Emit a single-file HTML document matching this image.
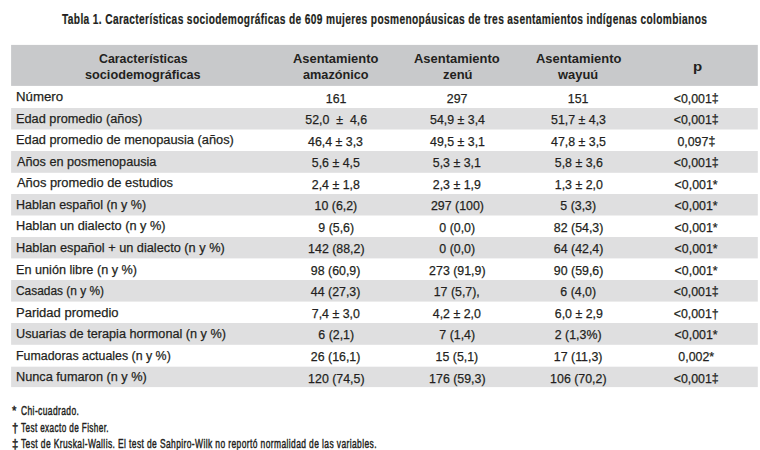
<!DOCTYPE html>
<html><head><meta charset="utf-8"><style>
html,body{margin:0;padding:0;background:#fff;width:760px;height:450px;overflow:hidden;}
body{position:relative;font-family:"Liberation Sans",sans-serif;color:#231f20;}
.bg{position:absolute;}
.t{position:absolute;white-space:nowrap;transform-origin:0 0;}
.c{position:absolute;white-space:nowrap;text-align:center;}
.c span{display:inline-block;transform-origin:50% 50%;}
.r{-webkit-text-stroke:0.25px #231f20;}
.f{-webkit-text-stroke:0.45px #231f20;letter-spacing:0.6px;}
.tb{font-weight:bold;letter-spacing:0.5px;-webkit-text-stroke:0.2px #231f20;}
i.dd{font-style:normal;position:relative;top:-1px;}
.b{font-weight:bold;color:#231f20;}
</style></head><body>
<svg class="bg" style="left:0;top:0" width="760" height="450" viewBox="0 0 760 450"><rect x="11.1" y="44.9" width="746.7" height="41.00" fill="#c8c9cb"/><rect x="11.1" y="108" width="746.7" height="21.50" fill="#dfdfe0"/><rect x="11.1" y="151" width="746.7" height="21.80" fill="#dfdfe0"/><rect x="11.1" y="194" width="746.7" height="21.50" fill="#dfdfe0"/><rect x="11.1" y="237" width="746.7" height="21.40" fill="#dfdfe0"/><rect x="11.1" y="280" width="746.7" height="21.60" fill="#dfdfe0"/><rect x="11.1" y="323" width="746.7" height="21.80" fill="#dfdfe0"/><rect x="11.1" y="366.7" width="746.7" height="20.40" fill="#dfdfe0"/></svg>
<div class="t tb" style="left:62.00px;top:12.05px;font-size:14.0px;line-height:14.0px;transform:scaleX(0.7269)">Tabla 1. Características sociodemográficas de 609 mujeres posmenopáusicas de tres asentamientos indígenas colombianos</div>
<div class="t b" style="left:99.30px;top:51.99px;font-size:13px;line-height:13px;transform:scaleX(0.9505)">Características</div>
<div class="t b" style="left:85.42px;top:68.39px;font-size:13px;line-height:13px;transform:scaleX(0.9761)">sociodemográficas</div>
<div class="t b" style="left:293.00px;top:51.69px;font-size:13px;line-height:13px;transform:scaleX(0.9930)">Asentamiento</div>
<div class="t b" style="left:303.20px;top:67.89px;font-size:13px;line-height:13px;transform:scaleX(0.9761)">amazónico</div>
<div class="t b" style="left:414.20px;top:51.69px;font-size:13px;line-height:13px;transform:scaleX(0.9965)">Asentamiento</div>
<div class="t b" style="left:442.70px;top:67.89px;font-size:13px;line-height:13px;transform:scaleX(0.9966)">zenú</div>
<div class="t b" style="left:535.60px;top:51.69px;font-size:13px;line-height:13px;transform:scaleX(0.9930)">Asentamiento</div>
<div class="t b" style="left:558.40px;top:67.89px;font-size:13px;line-height:13px;transform:scaleX(0.9925)">wayuú</div>
<div class="t b" style="left:693.04px;top:59.79px;font-size:13px;line-height:13px;transform:scaleX(1.1571)">p</div>
<div class="t r" style="left:15.73px;top:89.90px;font-size:13.7px;line-height:13.7px;transform:scaleX(0.9681)">Número</div>
<div class="t r" style="left:15.77px;top:111.70px;font-size:13.7px;line-height:13.7px;transform:scaleX(0.9313)">Edad promedio (años)</div>
<div class="t r" style="left:15.76px;top:132.60px;font-size:13.7px;line-height:13.7px;transform:scaleX(0.9355)">Edad promedio de menopausia (años)</div>
<div class="t r" style="left:16.70px;top:154.60px;font-size:13.7px;line-height:13.7px;transform:scaleX(0.9252)">Años en posmenopausia</div>
<div class="t r" style="left:16.70px;top:175.60px;font-size:13.7px;line-height:13.7px;transform:scaleX(0.9404)">Años promedio de estudios</div>
<div class="t r" style="left:15.79px;top:197.60px;font-size:13.7px;line-height:13.7px;transform:scaleX(0.9142)">Hablan español (n y %)</div>
<div class="t r" style="left:15.77px;top:218.60px;font-size:13.7px;line-height:13.7px;transform:scaleX(0.9314)">Hablan un dialecto (n y %)</div>
<div class="t r" style="left:15.77px;top:240.60px;font-size:13.7px;line-height:13.7px;transform:scaleX(0.9314)">Hablan español + un dialecto (n y %)</div>
<div class="t r" style="left:15.78px;top:262.60px;font-size:13.7px;line-height:13.7px;transform:scaleX(0.9248)">En unión libre (n y %)</div>
<div class="t r" style="left:15.83px;top:283.60px;font-size:13.7px;line-height:13.7px;transform:scaleX(0.8700)">Casadas (n y %)</div>
<div class="t r" style="left:15.75px;top:305.60px;font-size:13.7px;line-height:13.7px;transform:scaleX(0.9495)">Paridad promedio</div>
<div class="t r" style="left:15.77px;top:326.60px;font-size:13.7px;line-height:13.7px;transform:scaleX(0.9262)">Usuarias de terapia hormonal (n y %)</div>
<div class="t r" style="left:15.80px;top:348.60px;font-size:13.7px;line-height:13.7px;transform:scaleX(0.9041)">Fumadoras actuales (n y %)</div>
<div class="t r" style="left:15.77px;top:369.60px;font-size:13.7px;line-height:13.7px;transform:scaleX(0.9295)">Nunca fumaron (n y %)</div>
<div class="t f" style="left:21.30px;top:404.93px;font-size:12.6px;line-height:12.6px;transform:scaleX(0.6709)">Chi-cuadrado.</div>
<div class="t f" style="left:21.30px;top:421.73px;font-size:12.6px;line-height:12.6px;transform:scaleX(0.6485)">Test exacto de Fisher.</div>
<div class="t f" style="left:21.30px;top:437.53px;font-size:12.6px;line-height:12.6px;transform:scaleX(0.6700)">Test de Kruskal-Wallis. El test de Sahpiro-Wilk no reportó normalidad de las variables.</div>
<div class="c r" style="left:236.00px;width:200px;top:92.14px;font-size:13.3px;line-height:13.3px"><span style="transform:scaleX(0.93)">161</span></div>
<div class="c r" style="left:357.20px;width:200px;top:92.14px;font-size:13.3px;line-height:13.3px"><span style="transform:scaleX(0.93)">297</span></div>
<div class="c r" style="left:478.40px;width:200px;top:92.14px;font-size:13.3px;line-height:13.3px"><span style="transform:scaleX(0.93)">151</span></div>
<div class="c r" style="left:596.40px;width:200px;top:92.14px;font-size:13.3px;line-height:13.3px"><span style="transform:scaleX(0.93)">&lt;0,001<i class="dd">‡</i></span></div>
<div class="c r" style="left:236.00px;width:200px;top:112.94px;font-size:13.3px;line-height:13.3px"><span style="transform:scaleX(0.93)">52,0 &nbsp;±&nbsp; 4,6</span></div>
<div class="c r" style="left:357.20px;width:200px;top:112.94px;font-size:13.3px;line-height:13.3px"><span style="transform:scaleX(0.93)">54,9 ± 3,4</span></div>
<div class="c r" style="left:478.40px;width:200px;top:112.94px;font-size:13.3px;line-height:13.3px"><span style="transform:scaleX(0.93)">51,7 ± 4,3</span></div>
<div class="c r" style="left:596.40px;width:200px;top:112.94px;font-size:13.3px;line-height:13.3px"><span style="transform:scaleX(0.93)">&lt;0,001<i class="dd">‡</i></span></div>
<div class="c r" style="left:236.00px;width:200px;top:135.14px;font-size:13.3px;line-height:13.3px"><span style="transform:scaleX(0.93)">46,4 ± 3,3</span></div>
<div class="c r" style="left:357.20px;width:200px;top:135.14px;font-size:13.3px;line-height:13.3px"><span style="transform:scaleX(0.93)">49,5 ± 3,1</span></div>
<div class="c r" style="left:478.40px;width:200px;top:135.14px;font-size:13.3px;line-height:13.3px"><span style="transform:scaleX(0.93)">47,8 ± 3,5</span></div>
<div class="c r" style="left:596.40px;width:200px;top:135.14px;font-size:13.3px;line-height:13.3px"><span style="transform:scaleX(0.93)">0,097<i class="dd">‡</i></span></div>
<div class="c r" style="left:236.00px;width:200px;top:155.94px;font-size:13.3px;line-height:13.3px"><span style="transform:scaleX(0.93)">5,6 ± 4,5</span></div>
<div class="c r" style="left:357.20px;width:200px;top:155.94px;font-size:13.3px;line-height:13.3px"><span style="transform:scaleX(0.93)">5,3 ± 3,1</span></div>
<div class="c r" style="left:478.40px;width:200px;top:155.94px;font-size:13.3px;line-height:13.3px"><span style="transform:scaleX(0.93)">5,8 ± 3,6</span></div>
<div class="c r" style="left:596.40px;width:200px;top:155.94px;font-size:13.3px;line-height:13.3px"><span style="transform:scaleX(0.93)">&lt;0,001<i class="dd">‡</i></span></div>
<div class="c r" style="left:236.00px;width:200px;top:178.14px;font-size:13.3px;line-height:13.3px"><span style="transform:scaleX(0.93)">2,4 ± 1,8</span></div>
<div class="c r" style="left:357.20px;width:200px;top:178.14px;font-size:13.3px;line-height:13.3px"><span style="transform:scaleX(0.93)">2,3 ± 1,9</span></div>
<div class="c r" style="left:478.40px;width:200px;top:178.14px;font-size:13.3px;line-height:13.3px"><span style="transform:scaleX(0.93)">1,3 ± 2,0</span></div>
<div class="c r" style="left:596.40px;width:200px;top:178.14px;font-size:13.3px;line-height:13.3px"><span style="transform:scaleX(0.93)">&lt;0,001*</span></div>
<div class="c r" style="left:236.00px;width:200px;top:198.64px;font-size:13.3px;line-height:13.3px"><span style="transform:scaleX(0.93)">10 (6,2)</span></div>
<div class="c r" style="left:357.20px;width:200px;top:198.64px;font-size:13.3px;line-height:13.3px"><span style="transform:scaleX(0.93)">297 (100)</span></div>
<div class="c r" style="left:478.40px;width:200px;top:198.64px;font-size:13.3px;line-height:13.3px"><span style="transform:scaleX(0.93)">5 (3,3)</span></div>
<div class="c r" style="left:596.40px;width:200px;top:198.64px;font-size:13.3px;line-height:13.3px"><span style="transform:scaleX(0.93)">&lt;0,001*</span></div>
<div class="c r" style="left:236.00px;width:200px;top:220.94px;font-size:13.3px;line-height:13.3px"><span style="transform:scaleX(0.93)">9 (5,6)</span></div>
<div class="c r" style="left:357.20px;width:200px;top:220.94px;font-size:13.3px;line-height:13.3px"><span style="transform:scaleX(0.93)">0 (0,0)</span></div>
<div class="c r" style="left:478.40px;width:200px;top:220.94px;font-size:13.3px;line-height:13.3px"><span style="transform:scaleX(0.93)">82 (54,3)</span></div>
<div class="c r" style="left:596.40px;width:200px;top:220.94px;font-size:13.3px;line-height:13.3px"><span style="transform:scaleX(0.93)">&lt;0,001*</span></div>
<div class="c r" style="left:236.00px;width:200px;top:241.64px;font-size:13.3px;line-height:13.3px"><span style="transform:scaleX(0.93)">142 (88,2)</span></div>
<div class="c r" style="left:357.20px;width:200px;top:241.64px;font-size:13.3px;line-height:13.3px"><span style="transform:scaleX(0.93)">0 (0,0)</span></div>
<div class="c r" style="left:478.40px;width:200px;top:241.64px;font-size:13.3px;line-height:13.3px"><span style="transform:scaleX(0.93)">64 (42,4)</span></div>
<div class="c r" style="left:596.40px;width:200px;top:241.64px;font-size:13.3px;line-height:13.3px"><span style="transform:scaleX(0.93)">&lt;0,001*</span></div>
<div class="c r" style="left:236.00px;width:200px;top:264.14px;font-size:13.3px;line-height:13.3px"><span style="transform:scaleX(0.93)">98 (60,9)</span></div>
<div class="c r" style="left:357.20px;width:200px;top:264.14px;font-size:13.3px;line-height:13.3px"><span style="transform:scaleX(0.93)">273 (91,9)</span></div>
<div class="c r" style="left:478.40px;width:200px;top:264.14px;font-size:13.3px;line-height:13.3px"><span style="transform:scaleX(0.93)">90 (59,6)</span></div>
<div class="c r" style="left:596.40px;width:200px;top:264.14px;font-size:13.3px;line-height:13.3px"><span style="transform:scaleX(0.93)">&lt;0,001*</span></div>
<div class="c r" style="left:236.00px;width:200px;top:284.64px;font-size:13.3px;line-height:13.3px"><span style="transform:scaleX(0.93)">44 (27,3)</span></div>
<div class="c r" style="left:357.20px;width:200px;top:284.64px;font-size:13.3px;line-height:13.3px"><span style="transform:scaleX(0.93)">17 (5,7),</span></div>
<div class="c r" style="left:478.40px;width:200px;top:284.64px;font-size:13.3px;line-height:13.3px"><span style="transform:scaleX(0.93)">6 (4,0)</span></div>
<div class="c r" style="left:596.40px;width:200px;top:284.64px;font-size:13.3px;line-height:13.3px"><span style="transform:scaleX(0.93)">&lt;0,001<i class="dd">‡</i></span></div>
<div class="c r" style="left:236.00px;width:200px;top:307.14px;font-size:13.3px;line-height:13.3px"><span style="transform:scaleX(0.93)">7,4 ± 3,0</span></div>
<div class="c r" style="left:357.20px;width:200px;top:307.14px;font-size:13.3px;line-height:13.3px"><span style="transform:scaleX(0.93)">4,2 ± 2,0</span></div>
<div class="c r" style="left:478.40px;width:200px;top:307.14px;font-size:13.3px;line-height:13.3px"><span style="transform:scaleX(0.93)">6,0 ± 2,9</span></div>
<div class="c r" style="left:596.40px;width:200px;top:307.14px;font-size:13.3px;line-height:13.3px"><span style="transform:scaleX(0.93)">&lt;0,001†</span></div>
<div class="c r" style="left:236.00px;width:200px;top:327.64px;font-size:13.3px;line-height:13.3px"><span style="transform:scaleX(0.93)">6 (2,1)</span></div>
<div class="c r" style="left:357.20px;width:200px;top:327.64px;font-size:13.3px;line-height:13.3px"><span style="transform:scaleX(0.93)">7 (1,4)</span></div>
<div class="c r" style="left:478.40px;width:200px;top:327.64px;font-size:13.3px;line-height:13.3px"><span style="transform:scaleX(0.93)">2 (1,3%)</span></div>
<div class="c r" style="left:596.40px;width:200px;top:327.64px;font-size:13.3px;line-height:13.3px"><span style="transform:scaleX(0.93)">&lt;0,001*</span></div>
<div class="c r" style="left:236.00px;width:200px;top:350.14px;font-size:13.3px;line-height:13.3px"><span style="transform:scaleX(0.93)">26 (16,1)</span></div>
<div class="c r" style="left:357.20px;width:200px;top:350.14px;font-size:13.3px;line-height:13.3px"><span style="transform:scaleX(0.93)">15 (5,1)</span></div>
<div class="c r" style="left:478.40px;width:200px;top:350.14px;font-size:13.3px;line-height:13.3px"><span style="transform:scaleX(0.93)">17 (11,3)</span></div>
<div class="c r" style="left:596.40px;width:200px;top:350.14px;font-size:13.3px;line-height:13.3px"><span style="transform:scaleX(0.93)">0,002*</span></div>
<div class="c r" style="left:236.00px;width:200px;top:371.94px;font-size:13.3px;line-height:13.3px"><span style="transform:scaleX(0.93)">120 (74,5)</span></div>
<div class="c r" style="left:357.20px;width:200px;top:371.94px;font-size:13.3px;line-height:13.3px"><span style="transform:scaleX(0.93)">176 (59,3)</span></div>
<div class="c r" style="left:478.40px;width:200px;top:371.94px;font-size:13.3px;line-height:13.3px"><span style="transform:scaleX(0.93)">106 (70,2)</span></div>
<div class="c r" style="left:596.40px;width:200px;top:371.94px;font-size:13.3px;line-height:13.3px"><span style="transform:scaleX(0.93)">&lt;0,001<i class="dd">‡</i></span></div>
<div class="t f" style="left:12.0px;top:404.93px;font-size:12.6px;line-height:12.6px;transform:scaleX(0.9)">*</div>
<div class="t f" style="left:12.0px;top:421.73px;font-size:12.6px;line-height:12.6px;transform:scaleX(0.9)">†</div>
<div class="t f" style="left:12.0px;top:437.53px;font-size:12.6px;line-height:12.6px;transform:scaleX(0.9)">‡</div>
</body></html>
